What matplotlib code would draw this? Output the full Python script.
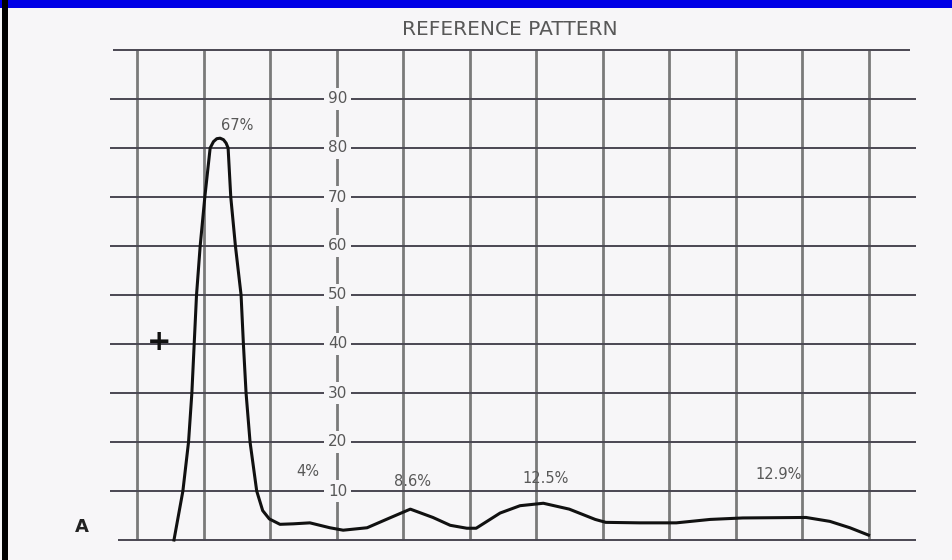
"""Serum protein electrophoresis reference pattern (scanned figure, panel A)."""

import matplotlib.pyplot as plt
from matplotlib.patches import Rectangle

# densitometer scan, x in grid divisions, y in scale units
scan_x = [0.556, 0.69, 0.775, 0.825, 0.86, 0.895, 0.95, 1.02, 1.10, 1.15, 1.20,
          1.25, 1.30, 1.34, 1.37, 1.41, 1.48, 1.565, 1.60, 1.64, 1.70, 1.80,
          1.89, 1.99, 2.15, 2.35, 2.60, 2.90, 3.10, 3.46, 3.80, 4.11, 4.45,
          4.71, 4.96, 5.10, 5.46, 5.76, 6.11, 6.50, 6.89, 7.05, 7.56, 8.11,
          8.62, 9.11, 10.06, 10.42, 10.72, 11.0]
scan_y = [0, 10, 20, 30, 40, 50, 60, 70, 80, 81.3, 81.9,
          82.0, 81.7, 81.0, 80, 70, 60, 50, 40, 30, 20, 10,
          6.0, 4.3, 3.2, 3.3, 3.5, 2.5, 2.0, 2.5, 4.5, 6.3, 4.6,
          3.0, 2.4, 2.4, 5.5, 7.0, 7.5, 6.3, 4.2, 3.6, 3.5, 3.5,
          4.2, 4.5, 4.6, 3.8, 2.5, 1.0]

scale_ticks = [10, 20, 30, 40, 50, 60, 70, 80, 90]
fraction_labels = ["67%", "4%", "8.6%", "12.5%", "12.9%"]
fraction_x = [1.5, 2.57, 4.14, 6.15, 9.65]
fraction_y = [84.5, 13.9, 12.0, 12.6, 13.3]

BG = "#f7f6f8"
TEXT = "#585858"


def main() -> None:
    fig = plt.figure(figsize=(9.52, 5.6), dpi=100, facecolor=BG)
    ax = fig.add_axes([0, 0, 1, 1])
    ax.set_facecolor(BG)
    ax.set_xlim(-137 / 66.5, (952 - 137) / 66.5)
    ax.set_ylim(-20 / 4.9, 540 / 4.9)
    ax.axis("off")

    # chart paper grid
    for gx in range(12):
        ax.plot([gx, gx], [0, 100], color="#7a7a7a", lw=2.0, zorder=1,
                solid_capstyle="butt")
    for gy in range(0, 101, 10):
        left = -0.29 if gy == 0 else (-0.36 if gy == 100 else -0.41)
        right = 11.62 if gy == 100 else 11.71
        ax.plot([left, right], [gy, gy], color="#4a4752", lw=1.4, zorder=2,
                solid_capstyle="butt")

    for t in scale_ticks:
        ax.text(3.02, t, str(t), ha="center", va="center", fontsize=11,
                color=TEXT, zorder=3,
                bbox=dict(boxstyle="square,pad=0.25", fc=BG, ec="none"))

    ax.plot(scan_x, scan_y, color="#111111", lw=2.2, zorder=4,
            solid_joinstyle="round")

    for lab, fx, fy in zip(fraction_labels, fraction_x, fraction_y):
        ax.text(fx, fy, lab, ha="center", va="center", fontsize=10.5,
                color=TEXT, zorder=5)

    ax.text(0.33, 40.4, "+", ha="center", va="center", fontsize=21,
            fontweight="bold", color="#111111", zorder=5)
    ax.text(-0.83, 2.65, "A", ha="center", va="center", fontsize=13,
            fontweight="bold", color="#222222", zorder=5)
    ax.text(5.61, 104.1, "REFERENCE PATTERN", ha="center", va="center",
            fontsize=14.5, color=TEXT, zorder=5)

    # scan border: blue strip on top, black edge on the left
    fig.patches.append(Rectangle((0, 1 - 8 / 560), 1, 8 / 560,
                                 transform=fig.transFigure, fc="#0000e6",
                                 ec="none", zorder=10))
    fig.patches.append(Rectangle((2 / 952, 0), 6 / 952, 1,
                                 transform=fig.transFigure, fc="#000000",
                                 ec="none", zorder=10))

    fig.savefig("out.png", dpi=100, facecolor=BG)


if __name__ == "__main__":
    main()
